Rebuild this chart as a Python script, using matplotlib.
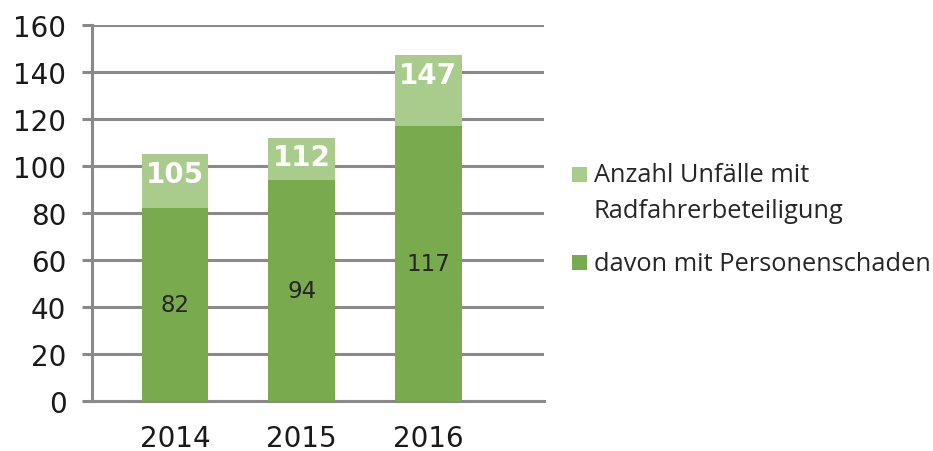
import matplotlib
matplotlib.use("Agg")
import matplotlib.pyplot as plt
from matplotlib.patches import Rectangle
import numpy as np

years = ["2014", "2015", "2016"]
total = [105, 112, 147]
injury = [82, 94, 117]
legend_lines = [["Anzahl Unfälle mit", "Radfahrerbeteiligung"], ["davon mit Personenschaden"]]
yticks = [0, 20, 40, 60, 80, 100, 120, 140, 160]

light = "#a9cb8b"
dark = "#7aaa4e"
grid = "#8a8a8a"
txt = "#1a1a1a"

W, H = 933, 452
fig = plt.figure(figsize=(W / 100, H / 100), dpi=100)
ax = fig.add_axes([91.7 / W, 1 - 401.7 / H, (544.3 - 91.7) / W, (401.7 - 25.7) / H])

x = np.arange(len(years))
w = 0.525
ax.bar(x, total, width=w, color=light, zorder=3)
ax.bar(x, injury, width=w, color=dark, zorder=4)

for xi, t, v in zip(x, total, injury):
    ax.annotate(str(t), (xi, t), xytext=(0, -4), textcoords="offset points",
                ha="center", va="top", color="white", fontsize=20,
                fontweight="bold", family="DejaVu Sans", zorder=5)
    ax.text(xi, v / 2, str(v), ha="center", va="center", color="#262626",
            fontsize=16.5, family="DejaVu Sans", zorder=5)

ax.set_xlim(-0.657, 2.915)
ax.set_ylim(0, 160)
ax.set_yticks(yticks)
ax.set_xticks(x)
ax.set_xticklabels(years)
ax.yaxis.grid(True, color=grid, linewidth=2.2, zorder=1)
ax.set_axisbelow(True)
for s in ["top", "right"]:
    ax.spines[s].set_visible(False)
for s in ["left", "bottom"]:
    ax.spines[s].set_color(grid)
    ax.spines[s].set_linewidth(2.2)
ax.tick_params(axis="y", length=7.2, width=2.2, color=grid, labelsize=20,
               labelcolor=txt, pad=11)
ax.tick_params(axis="x", length=0, labelsize=20, labelcolor=txt, pad=17)
for lbl in ax.get_yticklabels() + ax.get_xticklabels():
    lbl.set_family("DejaVu Sans")

# legend (square + text lines), positions in pixels
colors = [light, dark]
square_tops = [167.5, 256]
baselines = [[182.5, 218], [271]]
for col, top, lines, bls in zip(colors, square_tops, legend_lines, baselines):
    fig.add_artist(Rectangle((572 / W, 1 - (top + 15) / H), 15 / W, 15 / H,
                             transform=fig.transFigure, color=col, lw=0))
    for line, bl in zip(lines, bls):
        fig.text(594 / W, 1 - bl / H, line, ha="left", va="baseline",
                 fontsize=18.3, family="Open Sans", color="#262626")

fig.savefig("out.png", dpi=100)
